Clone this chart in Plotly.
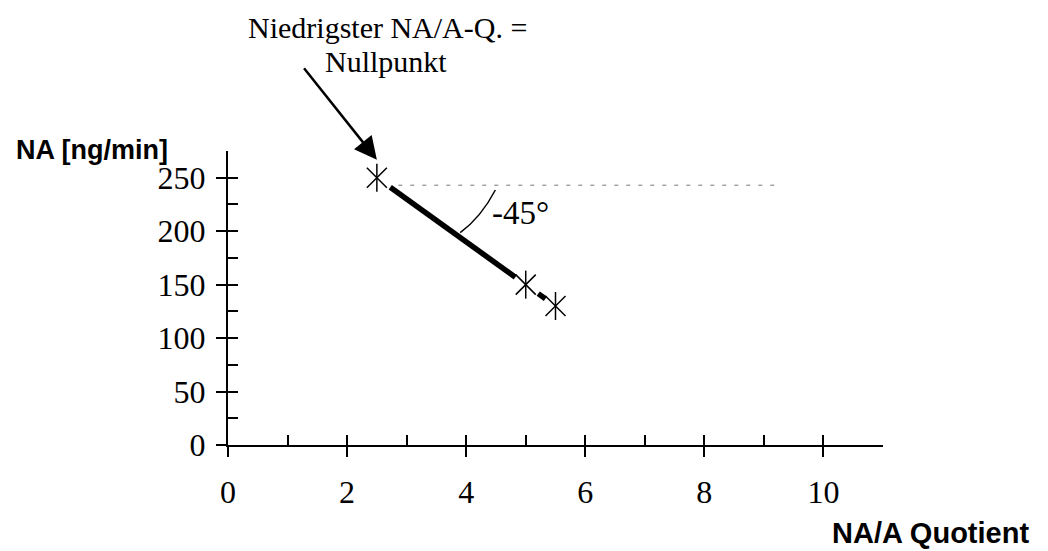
import plotly.graph_objects as go

# ---- data ----
quotient = [2.5, 5.0, 5.5]          # NA/A Quotient
na_values = [250, 150, 130]         # NA [ng/min]
x_ticks = [0, 2, 4, 6, 8, 10]
y_ticks = [0, 50, 100, 150, 200, 250]
ref_level = 243                     # dotted reference level
ref_x = [2.86, 9.2]
angle_label = "-45°"
note_lines = ["Niedrigster NA/A-Q. =", "Nullpunkt"]

# visible portion of each connecting segment (fractions along segment)
seg_frac = [(0.09, 0.93), (0.42, 0.66)]

SERIF = "Liberation Serif"
SANS = "Liberation Sans"

fig = go.Figure()

# thick connecting segments (with gaps near the markers)
lx, ly = [], []
for i, (t0, t1) in enumerate(seg_frac):
    x0, y0 = quotient[i], na_values[i]
    x1, y1 = quotient[i + 1], na_values[i + 1]
    lx += [x0 + t0 * (x1 - x0), x0 + t1 * (x1 - x0), None]
    ly += [y0 + t0 * (y1 - y0), y0 + t1 * (y1 - y0), None]
fig.add_trace(go.Scatter(x=lx, y=ly, mode="lines",
                         line=dict(color="black", width=5.5),
                         hoverinfo="skip", showlegend=False))

# star markers (x + vertical bar)
for sym in ["x-thin-open", "line-ns-open"]:
    fig.add_trace(go.Scatter(x=quotient, y=na_values, mode="markers",
                             marker=dict(symbol=sym, size=20, color="black",
                                         line=dict(color="black", width=1.5)),
                             showlegend=False))

# secondary trace to host overlay axes for inside (minor) ticks
fig.add_trace(go.Scatter(x=[None], y=[None], xaxis="x2", yaxis="y2",
                         showlegend=False))

# dotted reference line
fig.add_shape(type="line", x0=ref_x[0], x1=ref_x[1], y0=ref_level, y1=ref_level,
              xref="x", yref="y", line=dict(color="#777777", width=1, dash="4px,8px"))

# angle arc
fig.add_shape(type="path", path="M 4.49,238.5 Q 4.25,213 3.90,198.6",
              xref="x", yref="y", line=dict(color="black", width=1.5))

fig.add_annotation(x=4.92, y=217, xref="x", yref="y", text=angle_label,
                   showarrow=False, font=dict(family=SERIF, size=33, color="black"))

# arrow to zero point
fig.add_annotation(x=quotient[0], y=na_values[0], xref="x", yref="y", text="",
                   showarrow=True, ax=-74, ay=-93, yshift=18, arrowhead=2,
                   arrowsize=1.8, arrowwidth=2.5, arrowcolor="black", standoff=0)

fig.add_annotation(x=(387.5 - 228) / 655, y=(445 - 27) / 294, xref="paper", yref="paper",
                   xanchor="center", yanchor="middle",
                   text=note_lines[0], showarrow=False,
                   font=dict(family=SERIF, size=30, color="black"))
fig.add_annotation(x=(386 - 228) / 655, y=(445 - 61) / 294, xref="paper", yref="paper",
                   xanchor="center", yanchor="middle",
                   text=note_lines[1], showarrow=False,
                   font=dict(family=SERIF, size=30, color="black"))

# axis titles
fig.add_annotation(x=(14 - 228) / 655, y=(445 - 150) / 294, xref="paper", yref="paper",
                   xanchor="left", yanchor="middle",
                   text="<b>NA [ng/min]</b>", showarrow=False,
                   font=dict(family=SANS, size=27, color="black"))
fig.add_annotation(x=(1031 - 228) / 655, y=(445 - 533) / 294, xref="paper", yref="paper",
                   xanchor="right", yanchor="middle",
                   text="<b>NA/A Quotient</b>", showarrow=False,
                   font=dict(family=SANS, size=29, color="black"))

fig.update_layout(
    width=1048, height=551,
    margin=dict(l=228, r=165, t=151, b=106, autoexpand=False),
    paper_bgcolor="white", plot_bgcolor="white",
    xaxis=dict(range=[0, 11], showgrid=False, zeroline=False, automargin=False,
               showline=True, linecolor="black", linewidth=2,
               tickmode="array", tickvals=x_ticks, ticks="outside",
               ticklen=10, tickwidth=2, tickcolor="black",
               tickfont=dict(family=SERIF, size=32, color="black"),
               ticklabelstandoff=8),
    yaxis=dict(range=[0, 275], showgrid=False, zeroline=False, automargin=False,
               showline=True, linecolor="black", linewidth=2,
               tickmode="array", tickvals=y_ticks, ticks="outside",
               ticklen=10, tickwidth=2, tickcolor="black",
               tickfont=dict(family=SERIF, size=32, color="black"),
               ticklabelstandoff=4),
    xaxis2=dict(range=[0, 11], overlaying="x", anchor="y2", showgrid=False,
                zeroline=False, showline=False, dtick=1, tick0=0,
                ticks="inside", ticklen=10, tickwidth=2, tickcolor="black",
                showticklabels=False),
    yaxis2=dict(range=[0, 275], overlaying="y", anchor="x2", showgrid=False,
                zeroline=False, showline=False, dtick=25, tick0=0,
                ticks="inside", ticklen=10, tickwidth=2, tickcolor="black",
                showticklabels=False),
)

fig.write_html("out.html")
